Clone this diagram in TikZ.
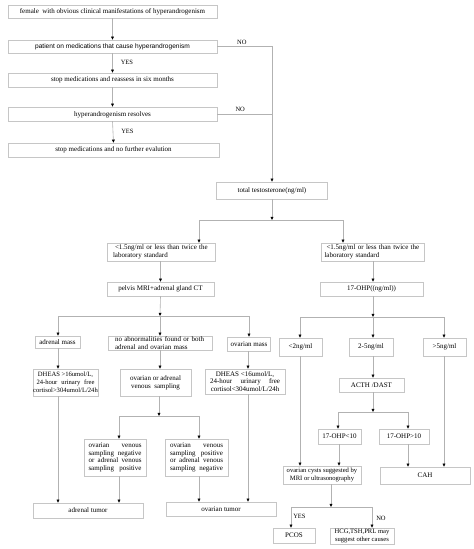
\documentclass[tikz,border=0pt]{standalone}
\usepackage{fontspec}
\setmainfont{Liberation Serif}
\newfontfamily\sansf{Liberation Sans}
\usetikzlibrary{arrows.meta,shadows}
\begin{document}
\begin{tikzpicture}[x=1pt,y=-1pt,
  box/.style={draw=gray!45,line width=0.5pt,fill=white,inner sep=0pt,font=\fontsize{7}{7.8}\selectfont,
    drop shadow={shadow xshift=0.7pt,shadow yshift=-0.7pt,fill=gray!25,opacity=1}},
  conn/.style={draw=gray!60,line width=0.6pt},
  arr/.style={conn,-{Triangle[width=2.8pt,length=3.2pt,black]}},
  lbl/.style={font=\fontsize{6.5}{7}\selectfont,inner sep=0pt}]
\fill[white] (0,0) rectangle (474,549);
\useasboundingbox (0,0) rectangle (474,549);
% top column
\node[box,minimum width=209pt,minimum height=13pt] (b1) at (112.5,11.5) {female\ \ with obvious clinical manifestations of hyperandrogenism};
\node[box,minimum width=209pt,minimum height=13pt] (b2) at (112.5,46.5) {\sansf\fontsize{6.6}{7}\selectfont patient on medications that cause hyperandrogenism};
\node[box,minimum width=209pt,minimum height=14pt] (b3) at (112.5,80) {stop medications and reassess in six months};
\node[box,minimum width=209pt,minimum height=14pt,text depth=-1pt] (b4) at (112.5,114) {hyperandrogenism resolves};
\node[box,minimum width=211pt,minimum height=14pt] (b5) at (113.5,150) {stop medications and no further evalution};
\node[box,minimum width=111pt,minimum height=17pt] (tt) at (272,190.5) {total testosterone(ng/ml)};
\node[box,minimum width=108pt,minimum height=18pt,align=left,text width=96pt] (L1) at (161,252) {\hspace*{2pt}<1.5ng/ml or less than twice the\\laboratory standard};
\node[box,minimum width=103pt,minimum height=18pt,align=left,text width=96pt] (R1) at (372.5,252) {\hspace*{2pt}<1.5ng/ml or less than twice the\\laboratory standard};
\node[box,minimum width=107pt,minimum height=14pt] (pel) at (160.5,289) {pelvis MRI+adrenal gland CT};
\node[box,minimum width=103pt,minimum height=14pt] (oh) at (371.5,289) {17-OHP((ng/ml))};
% left branch
\node[box,minimum width=45pt,minimum height=12pt] (am) at (57.5,342) {adrenal mass};
\node[box,minimum width=104pt,minimum height=14pt,align=left,text width=90pt] (na) at (160,343) {no abnormalities found or both\\adrenal and ovarian mass};
\node[box,minimum width=43pt,minimum height=14pt] (om) at (249,344) {ovarian mass};
\node[box,minimum width=65pt,minimum height=27pt,align=center,font=\fontsize{6.6}{7.8}\selectfont] (d1) at (65.5,382.5) {DHEAS >16umol/L,\\\makebox[58pt][s]{24-hour urinary free}\\cortisol>304umol/L/24h};
\node[box,minimum width=71pt,minimum height=27pt,align=center] (vs) at (155.5,382.5) {ovarian or adrenal\\venous\ \ sampling};
\node[box,minimum width=80pt,minimum height=25pt,align=center] (d2) at (245,381.5) {DHEAS <16umol/L,\\\makebox[70pt][s]{24-hour urinary free}\\cortisol<304umol/L/24h};
\node[box,minimum width=62pt,minimum height=37pt,align=center] (sA) at (115,457.5) {\makebox[53pt][s]{ovarian venous}\\\makebox[53pt][s]{sampling negative}\\\makebox[53pt][s]{or adrenal venous}\\\makebox[53pt][s]{sampling positive}};
\node[box,minimum width=63pt,minimum height=37pt,align=center] (sB) at (196.5,457.5) {\makebox[53pt][s]{ovarian venous}\\\makebox[53pt][s]{sampling positive}\\\makebox[53pt][s]{or adrenal venous}\\\makebox[53pt][s]{sampling negative}};
\node[box,minimum width=110pt,minimum height=15pt] (at) at (88,510.5) {adrenal tumor};
\node[box,minimum width=110pt,minimum height=14pt] (ot) at (221,509) {ovarian tumor};
% right branch
\node[box,minimum width=43pt,minimum height=18pt] (lt2) at (300.5,347) {<2ng/ml};
\node[box,minimum width=44pt,minimum height=18pt] (m25) at (371,347) {2-5ng/ml};
\node[box,minimum width=43pt,minimum height=18pt] (gt5) at (444.5,347) {>5ng/ml};
\node[box,minimum width=65pt,minimum height=14pt] (acth) at (371.5,385) {ACTH /DAST};
\node[box,minimum width=43pt,minimum height=15pt] (o1) at (339.5,436.5) {17-OHP<10};
\node[box,minimum width=50pt,minimum height=15pt] (o2) at (404,436.5) {17-OHP>10};
\node[box,minimum width=78pt,minimum height=18pt,align=center,font=\fontsize{6.6}{7.6}\selectfont] (cy) at (322,475) {ovarian cysts suggested by\\MRI or ultrasonography};
\node[box,minimum width=90pt,minimum height=17pt] (cah) at (425,475.5) {CAH};
\node[box,minimum width=42pt,minimum height=15pt] (pc) at (294,535.5) {PCOS};
\node[box,minimum width=64pt,minimum height=16pt,align=center,font=\fontsize{6.6}{7.6}\selectfont] (hcg) at (362,536) {HCG,TSH,PRL may\\suggest other causes};
% junctions
\coordinate (j1) at (272,220); \coordinate (j1l) at (199,220); \coordinate (j1r) at (343,220);
\coordinate (j2) at (160,316); \coordinate (j2l) at (58,316); \coordinate (j2r) at (249,316);
\coordinate (j3) at (159,416); \coordinate (j3l) at (119,416); \coordinate (j3r) at (199,416);
\coordinate (j4) at (373,317); \coordinate (j4l) at (300,317); \coordinate (j4r) at (444,317);
\coordinate (j5) at (373,412); \coordinate (j5l) at (338,412); \coordinate (j5r) at (408,412);
\coordinate (j6) at (331,507); \coordinate (j6l) at (291,507); \coordinate (j6r) at (372,507);
% top connectors
\draw[arr] (b1.south) -- (b2.north);
\draw[arr] (b2.south) -- node[lbl,right=8pt,pos=0.45]{YES} (b3.north);
\draw[arr] (b3.south) -- (b4.north);
\draw[arr] (b4.south) -- node[lbl,right=8pt,pos=0.45]{YES} (b5.north);
\draw[arr] (b2.east) -- node[lbl,above=2pt,pos=0.45]{NO} (b2.east -| tt.north) -- (tt.north);
\draw[conn] (b4.east) -- node[lbl,above=2pt,pos=0.42]{NO} (b4.east -| tt.north);
\draw[arr] (tt.south) -- (j1);
\draw[conn] (j1l) -- (j1r);
\draw[arr] (j1l) -- (j1l |- L1.north);
\draw[arr] (j1r) -- (j1r |- R1.north);
\draw[arr] (L1.south -| pel.north) -- (pel.north);
\draw[arr] (R1.south -| j4) -- (oh.north -| j4);
% left tree
\draw[arr] (pel.south) -- (j2);
\draw[conn] (j2l) -- (j2r);
\draw[arr] (j2l) -- (j2l |- am.north);
\draw[arr] (j2) -- (na.north);
\draw[arr] (j2r) -- (om.north);
\draw[arr] (am.south -| j2l) -- (d1.north -| j2l);
\draw[arr] (na.south) -- (vs.north -| na.south);
\draw[arr] (om.south -| d2.north) ++(3,0) coordinate (omx) -- (omx |- d2.north);
\draw[arr] (vs.south -| j3) -- (j3);
\draw[conn] (j3l) -- (j3r);
\draw[arr] (j3l) -- (j3l |- sA.north);
\draw[arr] (j3r) -- (j3r |- sB.north);
\draw[arr] (sA.south -| j3l) -- (at.north -| j3l);
\draw[arr] (d1.south -| j2l) -- (at.north -| j2l);
\draw[arr] (sB.south -| j3r) -- (ot.north -| j3r);
\draw[arr] (d2.south -| omx) -- (ot.north -| omx);
% right tree
\draw[arr] (oh.south -| j4) -- (j4);
\draw[conn] (j4l) -- (j4r);
\draw[arr] (j4l) -- (j4l |- lt2.north);
\draw[arr] (j4) -- (j4 |- m25.north);
\draw[arr] (j4r) -- (j4r |- gt5.north);
\draw[arr] (m25.south -| j4) -- (acth.north -| j4);
\draw[arr] (acth.south -| j5) -- (j5);
\draw[conn] (j5l) -- (j5r);
\draw[arr] (j5l) -- (j5l |- o1.north);
\draw[arr] (j5r) -- (j5r |- o2.north);
\draw[arr] (o1.south -| j5l) ++(1,0) coordinate (o1x) -- (o1x |- cy.north);
\draw[arr] (lt2.south -| j4l) -- (cy.north -| j4l);
\draw[arr] (o2.south -| j5r) -- (cah.north -| j5r);
\draw[arr] (gt5.south -| j4r) -- (cah.north -| j4r);
\draw[arr] (cy.south -| j6) -- (j6);
\draw[conn] (j6l) -- (j6r);
\draw[arr] (j6l) -- node[lbl,right=2pt,pos=0.45]{YES} (j6l |- pc.north);
\draw[arr] (j6r) -- node[lbl,right=4pt,pos=0.55]{NO} (j6r |- hcg.north);
\end{tikzpicture}
\end{document}
